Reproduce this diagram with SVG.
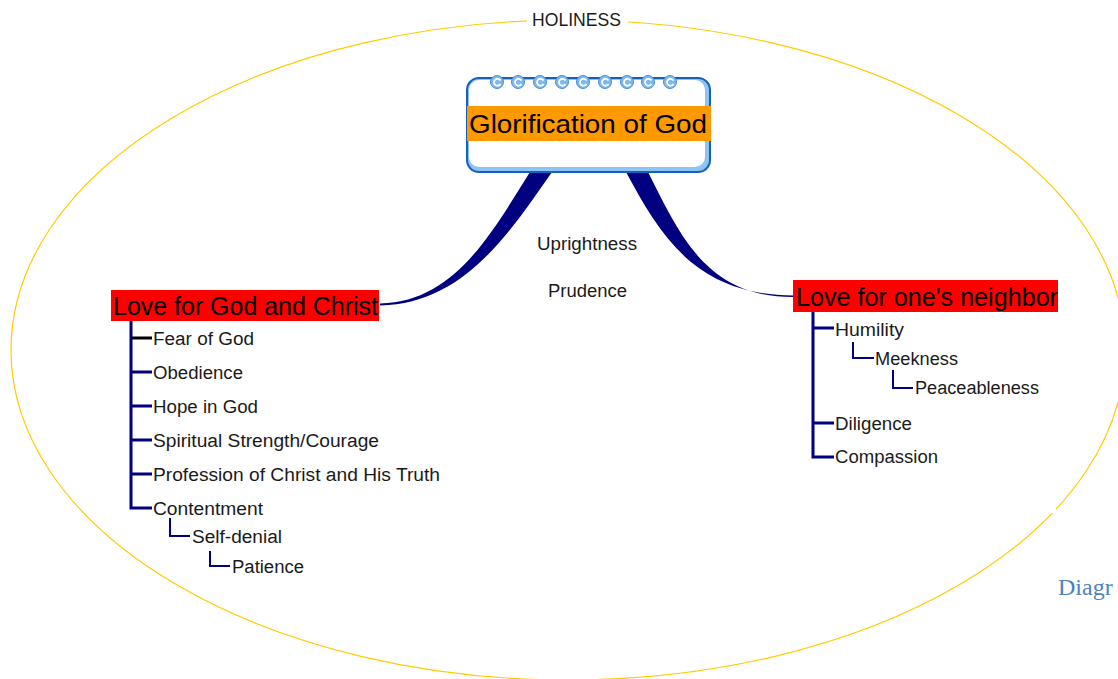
<svg xmlns="http://www.w3.org/2000/svg" width="1118" height="679" viewBox="0 0 1118 679">
<style>
.t{font-family:"Liberation Sans",Arial,sans-serif;font-size:18px;fill:#1a1a1a}
.big{font-family:"Liberation Sans",Arial,sans-serif;font-size:25px;fill:#000}
.tr{fill:none;stroke:#000080;stroke-width:3}
.tr2{fill:none;stroke:#000080;stroke-width:2}
</style>
<defs>
<g id="ring">
<circle cx="0" cy="0" r="6.5" fill="#7db8ee" stroke="#4a8fd8" stroke-width="1"/>
<path d="M3.5,-1.5 A3.5,3.5 0 1 0 3.5,2" fill="none" stroke="#fff" stroke-width="1.8"/>
</g>
</defs>
<rect width="1118" height="679" fill="#fff"/>
<g id="holiness">
<ellipse cx="568" cy="350" rx="557" ry="330" fill="none" stroke="#ffcc00" stroke-width="1.2"/>
<rect x="1050" y="508" width="6" height="5" fill="#fff"/>
<rect x="527" y="8" width="101" height="24" fill="#fff"/>
<text class="t" x="532" y="26" font-size="17" textLength="89" lengthAdjust="spacingAndGlyphs">HOLINESS</text>
</g>
<g id="connectors">
<path d="M530,172 C492,232 455,302 380,303.5 L380,305.5 C464,304 510,232 552,172 Z" fill="#000080"/>
<path d="M626,172 C660,235 695,295 793,295.5 L793,297 C706,297 680,235 648,172 Z" fill="#000080"/>
<path class="tr" d="M131,321 V508 H152"/>
<path d="M131,338 H152" stroke="#000" stroke-width="3"/>
<path class="tr" d="M131,372 H152 M131,406 H152 M131,440 H152 M131,474 H152"/>
<path class="tr2" d="M170,518 V536 H190"/>
<path class="tr2" d="M210,551 V566 H230"/>
<path class="tr" d="M813,312 V457 H834 M813,328 H834 M813,423 H834"/>
<path class="tr2" d="M853,342 V358 H874"/>
<path class="tr2" d="M893,370 V388 H913"/>
</g>
<g id="glorification">
<rect x="467" y="78" width="243" height="94" rx="12" fill="#8ec3f5" stroke="#1560bd" stroke-width="2"/>
<rect x="469" y="80" width="236" height="87" rx="10" fill="#fff"/>
<rect x="467" y="106" width="244" height="35" fill="#ff9900"/>
<text class="big" x="469" y="133" font-size="27" textLength="238" lengthAdjust="spacingAndGlyphs">Glorification of God</text>
<use href="#ring" x="497" y="82"/>
<use href="#ring" x="518" y="82"/>
<use href="#ring" x="540" y="82"/>
<use href="#ring" x="562" y="82"/>
<use href="#ring" x="583" y="82"/>
<use href="#ring" x="605" y="82"/>
<use href="#ring" x="627" y="82"/>
<use href="#ring" x="648" y="82"/>
<use href="#ring" x="670" y="82"/>
</g>
<g id="uprightness"><text class="t" x="537" y="250" textLength="100" lengthAdjust="spacingAndGlyphs">Uprightness</text></g>
<g id="prudence"><text class="t" x="548" y="297" textLength="79" lengthAdjust="spacingAndGlyphs">Prudence</text></g>
<g id="love-god">
<rect x="111" y="290" width="268" height="31" fill="#ff0000"/>
<text class="big" x="113" y="315" textLength="265" lengthAdjust="spacingAndGlyphs">Love for God and Christ</text>
</g>
<g id="fear"><text class="t" x="153" y="345" textLength="101" lengthAdjust="spacingAndGlyphs">Fear of God</text></g>
<g id="obedience"><text class="t" x="153" y="379" textLength="90" lengthAdjust="spacingAndGlyphs">Obedience</text></g>
<g id="hope"><text class="t" x="153" y="413" textLength="105" lengthAdjust="spacingAndGlyphs">Hope in God</text></g>
<g id="strength"><text class="t" x="153" y="447" textLength="226" lengthAdjust="spacingAndGlyphs">Spiritual Strength/Courage</text></g>
<g id="profession"><text class="t" x="153" y="481" textLength="287" lengthAdjust="spacingAndGlyphs">Profession of Christ and His Truth</text></g>
<g id="contentment"><text class="t" x="153" y="515" textLength="110" lengthAdjust="spacingAndGlyphs">Contentment</text></g>
<g id="selfdenial"><text class="t" x="192" y="543" textLength="90" lengthAdjust="spacingAndGlyphs">Self-denial</text></g>
<g id="patience"><text class="t" x="232" y="573" textLength="72" lengthAdjust="spacingAndGlyphs">Patience</text></g>
<g id="love-neighbor">
<rect x="793" y="280" width="265" height="32" fill="#ff0000"/>
<text class="big" x="796" y="306" textLength="262" lengthAdjust="spacingAndGlyphs">Love for one's neighbor</text>
</g>
<g id="humility"><text class="t" x="835" y="336" textLength="69" lengthAdjust="spacingAndGlyphs">Humility</text></g>
<g id="meekness"><text class="t" x="875" y="365" textLength="83" lengthAdjust="spacingAndGlyphs">Meekness</text></g>
<g id="peaceableness"><text class="t" x="915" y="394" textLength="124" lengthAdjust="spacingAndGlyphs">Peaceableness</text></g>
<g id="diligence"><text class="t" x="835" y="430" textLength="77" lengthAdjust="spacingAndGlyphs">Diligence</text></g>
<g id="compassion"><text class="t" x="835" y="463" textLength="103" lengthAdjust="spacingAndGlyphs">Compassion</text></g>
<text x="1058" y="595" font-family="'Liberation Serif','Times New Roman',serif" font-size="24" fill="#4f81bd">Diagr</text>
</svg>
